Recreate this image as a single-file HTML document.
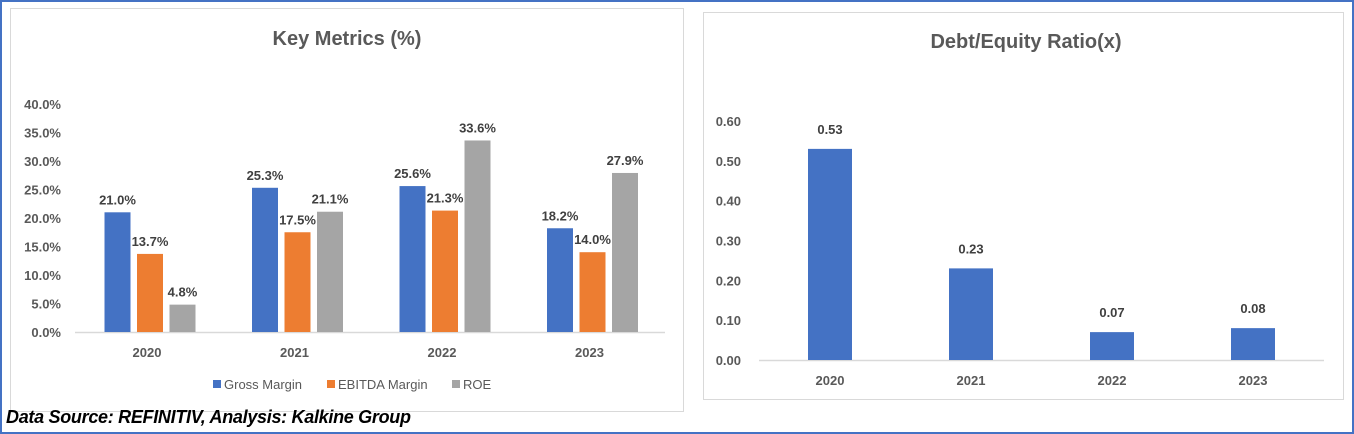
<!DOCTYPE html>
<html><head><meta charset="utf-8"><style>
body{margin:0;width:1354px;height:434px;background:#fff;overflow:hidden;font-family:"Liberation Sans",sans-serif}
#frame{position:absolute;left:0;top:0;width:1350px;height:430px;border:2px solid #4472c4}
.panel{position:absolute;border:1.5px solid #d9d9d9;background:#fff}
svg text{font-family:"Liberation Sans",sans-serif}
#src{position:absolute;left:6px;top:407px;font-size:18px;font-style:italic;font-weight:bold;color:#000;letter-spacing:-0.3px}
</style></head><body>
<div id="frame"></div>
<div class="panel" style="left:10px;top:8px;width:672px;height:402px"></div>
<div class="panel" style="left:703px;top:12px;width:639px;height:386px"></div>
<svg id="svg" width="1354" height="434" style="position:absolute;left:0;top:0">
<text x="347" y="45" text-anchor="middle" font-size="20" font-weight="bold" fill="#595959">Key Metrics (%)</text>
<text x="1026" y="48" text-anchor="middle" font-size="20" font-weight="bold" fill="#595959">Debt/Equity Ratio(x)</text>
</svg>
<div id="src">Data Source: REFINITIV, Analysis: Kalkine Group</div>
<script>
const years=["2020","2021","2022","2023"];
const gross=[21.0,25.3,25.6,18.2];
const ebitda=[13.7,17.5,21.3,14.0];
const roe=[4.8,21.1,33.6,27.9];
const pctTicks=[0,5,10,15,20,25,30,35,40];
const de=[0.53,0.23,0.07,0.08];
const deTicks=[0,0.1,0.2,0.3,0.4,0.5,0.6];
const svg=document.getElementById('svg');const NS='http://www.w3.org/2000/svg';
function mk(t,a,txt){const e=document.createElementNS(NS,t);for(const k in a)e.setAttribute(k,a[k]);if(txt!=null)e.textContent=txt;svg.appendChild(e);return e;}
// left chart
const y1=v=>332-v*(228/40);const x1=i=>147+i*147.5;
pctTicks.forEach(t=>{const e=mk('text',{x:61,y:y1(t)+5,'text-anchor':'end','font-size':13,'font-weight':'bold',fill:'#595959'},t.toFixed(1)+'%');

});
let ax=mk('line',{x1:75,x2:665,y1:332.5,y2:332.5,stroke:'#d9d9d9','stroke-width':1.5});


const series=[[gross,'#4472c4','gross'],[ebitda,'#ed7d31','ebitda'],[roe,'#a5a5a5','roe']];
years.forEach((yr,i)=>{
 series.forEach((s,j)=>{const v=s[0][i];const bx=x1(i)-42.5+j*32.5;
  const r=mk('rect',{x:bx,y:y1(v),width:26,height:332-y1(v),fill:s[1]});
  
  
  const l=mk('text',{x:bx+13,y:y1(v)-8,'text-anchor':'middle','font-size':13,'font-weight':'bold',fill:'#404040'},v.toFixed(1)+'%');
  
  });
 const t=mk('text',{x:x1(i),y:357,'text-anchor':'middle','font-size':13,'font-weight':'bold',fill:'#595959'},yr);
 
 });
[['Gross Margin','#4472c4',213],['EBITDA Margin','#ed7d31',327],['ROE','#a5a5a5',452]].forEach(l=>{
 const r=mk('rect',{x:l[2],y:380,width:8,height:8,fill:l[1]});
 
 
 const t=mk('text',{x:l[2]+11,y:389,'font-size':13,fill:'#595959'},l[0]);
 
 });
// right chart
const y2=v=>360-v*(239/0.6);const x2=i=>830+i*141;
deTicks.forEach(t=>{const e=mk('text',{x:741,y:y2(t)+5,'text-anchor':'end','font-size':13,'font-weight':'bold',fill:'#595959'},t.toFixed(2));

});
ax=mk('line',{x1:759,x2:1324,y1:360.5,y2:360.5,stroke:'#d9d9d9','stroke-width':1.5});


years.forEach((yr,i)=>{const v=de[i];
 const r=mk('rect',{x:x2(i)-22,y:y2(v),width:44,height:360-y2(v),fill:'#4472c4'});
 
 
 const l=mk('text',{x:x2(i),y:y2(v)-15,'text-anchor':'middle','font-size':13,'font-weight':'bold',fill:'#404040'},v.toFixed(2));
 
 
 const t=mk('text',{x:x2(i),y:385,'text-anchor':'middle','font-size':13,'font-weight':'bold',fill:'#595959'},yr);
 
 });
</script>
</body></html>
